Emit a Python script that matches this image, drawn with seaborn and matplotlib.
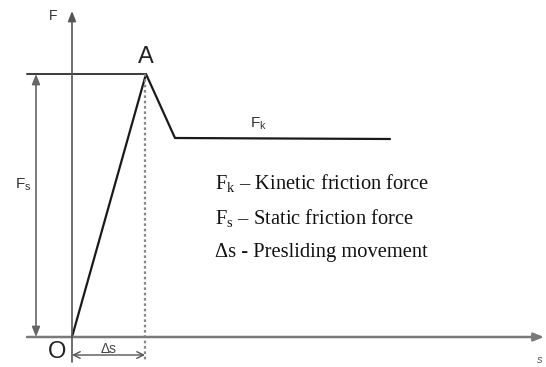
import matplotlib
matplotlib.use("Agg")
import matplotlib.pyplot as plt
import seaborn as sns
import pandas as pd

sns.set_theme(style="white")
plt.rcParams['font.family'] = ['Liberation Sans', 'DejaVu Sans']
plt.rcParams['mathtext.fontset'] = 'custom'
plt.rcParams['mathtext.rm'] = 'Liberation Serif'
plt.rcParams['mathtext.sf'] = 'Liberation Sans'

# Friction curve (s = displacement, F = force), origin at O
curve_s = [0, 74, 103, 318]
curve_F = [0, 263, 199, 198]
peak_s = 74          # Δs
static_F = 263       # Fs
legend_lines = [r"$\mathrm{F_k}$ – Kinetic friction force",
                r"$\mathrm{F_s}$ – Static friction force",
                "Δs - Presliding movement"]

fig = plt.figure(figsize=(5.46, 3.67), dpi=100)
ax = fig.add_axes([0, 0, 1, 1])
ax.set_xlim(-72, 474)
ax.set_ylim(-30, 337)
ax.axis('off')

df = pd.DataFrame({"s": curve_s, "F": curve_F})
sns.lineplot(data=df, x="s", y="F", sort=False, color="#1a1a1a", lw=1.6, ax=ax)

axis_c = "#7a7a7a"
# x axis
ax.annotate("", xy=(472, 0), xytext=(-45, 0),
            arrowprops=dict(arrowstyle="-|>,head_length=0.5,head_width=0.2", color=axis_c, lw=1.8, shrinkA=0, shrinkB=0))
# y axis
ax.annotate("", xy=(0, 326), xytext=(0, -25),
            arrowprops=dict(arrowstyle="-|>,head_length=0.5,head_width=0.2", color="#555555", lw=1.2, shrinkA=0, shrinkB=0))
# Fs level line
ax.plot([-45, peak_s], [static_F, static_F], color="#3a3a3a", lw=1.4)
# Fs dimension arrow
ax.annotate("", xy=(-36, static_F), xytext=(-36, 0),
            arrowprops=dict(arrowstyle="<|-|>,head_length=0.5,head_width=0.2", color="#666666", lw=1.2, shrinkA=0, shrinkB=0))
# dotted extension line at peak
ax.plot([peak_s - 1, peak_s - 1], [static_F, -25], color="#888888", lw=1.6, ls=(0, (1.2, 1.2)))
# Δs dimension arrow
ax.annotate("", xy=(peak_s - 1, -18), xytext=(0, -18),
            arrowprops=dict(arrowstyle="<->,head_length=0.4,head_width=0.2", color="#555555", lw=1.0, shrinkA=0, shrinkB=0))

# labels
ax.text(-19, 321, "F", fontsize=10, ha="center", va="center", color="#333333")
ax.text(74, 280, "A", fontsize=17, ha="center", va="center", color="#222222")
ax.text(-15, -15, "O", fontsize=17, ha="center", va="center", color="#222222")
ax.text(-49, 152, r"$\mathsf{F_s}$", fontsize=11, ha="center", va="center", color="#333333")
ax.text(186, 213, r"$\mathsf{F_k}$", fontsize=11, ha="center", va="center", color="#333333")
ax.text(37, -12, "Δs", fontsize=10, ha="center", va="center", color="#444444")
ax.text(468, -23, "s", fontsize=8, style="italic", ha="center", va="center", color="#555555")

for i, t in enumerate(legend_lines):
    ax.text(143, 154 - 35 * i, t, fontsize=14.8, family="Liberation Serif",
            ha="left", va="center", color="#111111")

fig.savefig("out.png", dpi=100)
